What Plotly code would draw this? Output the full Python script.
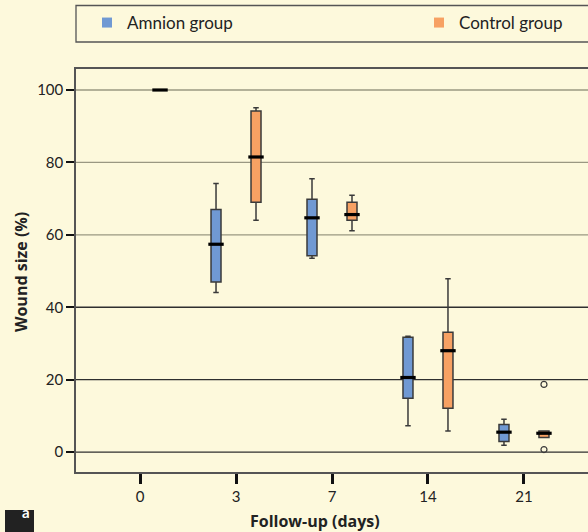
import plotly.graph_objects as go

DAYS = ["0", "3", "7", "14", "21"]
Y_TICKS = [0, 20, 40, 60, 80, 100]

AMNION_DAYS = ["3", "7", "14", "21"]
AMNION_LOW = [44.1, 53.5, 7.3, 1.9]
AMNION_Q1 = [47.0, 54.2, 14.9, 2.9]
AMNION_MED = [57.4, 64.7, 20.6, 5.5]
AMNION_Q3 = [67.0, 69.8, 31.7, 7.6]
AMNION_HIGH = [74.2, 75.5, 32.0, 9.1]

CONTROL_DAYS = ["0", "3", "7", "14", "21"]
CONTROL_LOW = [100, 64.0, 61.1, 5.8, 4.0]
CONTROL_Q1 = [100, 69.0, 64.0, 12.1, 4.0]
CONTROL_MED = [100, 81.5, 65.6, 28.0, 5.2]
CONTROL_Q3 = [100, 94.2, 69.0, 33.1, 5.8]
CONTROL_HIGH = [100, 95.1, 70.9, 47.9, 5.8]

CONTROL_OUT_DAYS = ["21", "21"]
CONTROL_OUT = [18.7, 0.7]

BG = "#FDF9DC"
BLUE = "#7099D3"
ORANGE = "#F7A163"
EDGE = "#3a3a3a"
FONT = "Lato, 'Open Sans', sans-serif"
TITLE_FONT = "'Open Sans', Lato, sans-serif"

PL, PT, PW, PH = 76, 69, 512, 403   # plot area in window pixels


def px_x(x):
    return (x - PL) / PW


def px_y(y):
    return (PT + PH - y) / PH


fig = go.Figure()

groups = [
    ("Amnion group", "A", BLUE, "legend", AMNION_DAYS, AMNION_LOW, AMNION_Q1, AMNION_MED, AMNION_Q3, AMNION_HIGH),
    ("Control group", "C", ORANGE, "legend2", CONTROL_DAYS, CONTROL_LOW, CONTROL_Q1, CONTROL_MED, CONTROL_Q3, CONTROL_HIGH),
]

for name, og, col, lg, xs, lo, q1, med, q3, hi in groups:
    fig.add_trace(go.Box(
        name=name, x=xs, lowerfence=lo, q1=q1, median=med, q3=q3, upperfence=hi,
        offsetgroup=og, fillcolor=col, line=dict(color=EDGE, width=1.5),
        whiskerwidth=0.55, showlegend=False, hoverinfo="skip",
    ))

for name, og, col, lg, xs, lo, q1, med, q3, hi in groups:
    fig.add_trace(go.Scatter(
        x=xs, y=med, mode="markers", offsetgroup=og, showlegend=False,
        marker=dict(symbol="line-ew", size=11, line=dict(color="black", width=3.2)),
        hoverinfo="skip",
    ))

fig.add_trace(go.Scatter(
    x=CONTROL_OUT_DAYS, y=CONTROL_OUT, mode="markers", offsetgroup="C", showlegend=False,
    marker=dict(symbol="circle-open", size=6, color=EDGE, line=dict(width=1.2)),
))

for name, og, col, lg, *_ in groups:
    fig.add_trace(go.Scatter(
        x=[None], y=[None], mode="markers", name=name, offsetgroup=og, legend=lg,
        marker=dict(symbol="square", size=10, color=col),
    ))

for v in Y_TICKS:
    fig.add_shape(type="line", xref="paper", x0=0, x1=1, y0=v, y1=v,
                  line=dict(color="#9a9882" if v >= 60 else "#2f2f2f", width=1.3),
                  layer="below")

# legend frame
fig.add_shape(type="rect", xref="paper", yref="paper", x0=0, x1=1.05,
              y0=px_y(42), y1=px_y(5.5),
              line=dict(color="#555", width=1.3), fillcolor="rgba(0,0,0,0)")

# panel label
fig.add_shape(type="rect", xref="paper", yref="paper",
              x0=px_x(5), x1=px_x(34), y0=px_y(545), y1=px_y(510),
              line=dict(width=0), fillcolor="#222")
fig.add_annotation(text="<b>a</b>", xref="paper", yref="paper",
                   x=px_x(19.5), y=px_y(523), showarrow=False,
                   font=dict(family=FONT, size=15, color="white"))

fig.add_annotation(text="<b>Follow-up (days)</b>", xref="paper", yref="paper",
                   x=px_x(315), y=px_y(521), showarrow=False,
                   xanchor="center", yanchor="middle",
                   font=dict(family=TITLE_FONT, size=16, color="#222"))
fig.add_annotation(text="<b>Wound size (%)</b>", xref="paper", yref="paper",
                   x=px_x(21), y=px_y(272), showarrow=False, textangle=-90,
                   xanchor="center", yanchor="middle",
                   font=dict(family=TITLE_FONT, size=16, color="#222"))

legend_style = dict(orientation="h", xanchor="left", y=px_y(23), yanchor="middle",
                    bgcolor="rgba(0,0,0,0)", borderwidth=0,
                    font=dict(family=FONT, size=17, color="#222"))

fig.update_layout(
    width=588, height=532,
    margin=dict(l=PL, r=0, t=PT, b=532 - PT - PH, autoexpand=False),
    paper_bgcolor=BG, plot_bgcolor=BG,
    boxmode="group", boxgap=0.1667, boxgroupgap=0.75,
    scattermode="group", scattergap=0.1667,
    font=dict(family=FONT, size=15, color="#222"),
    legend=dict(x=px_x(87), **legend_style),
    legend2=dict(x=px_x(419), **legend_style),
    xaxis=dict(type="category", categoryorder="array", categoryarray=DAYS,
               range=[-0.667, 4.667], showgrid=False, zeroline=False,
               showline=True, mirror=True, linecolor="#555", linewidth=1.5,
               ticks="outside", ticklen=10, tickwidth=2.5, tickcolor="#111",
               tickfont=dict(size=15)),
    yaxis=dict(range=[-5.5, 105.8], tickvals=Y_TICKS, showgrid=False, zeroline=False,
               showline=True, linecolor="#555", linewidth=1.5,
               ticks="outside", ticklen=8, tickwidth=2, tickcolor="#111",
               tickfont=dict(size=15)),
)

fig.write_html(
    "out.html",
    config={"displayModeBar": False},
    post_script="document.body.style.margin='0';document.body.style.padding='0';"
                "document.body.style.background='" + BG + "';",
)
